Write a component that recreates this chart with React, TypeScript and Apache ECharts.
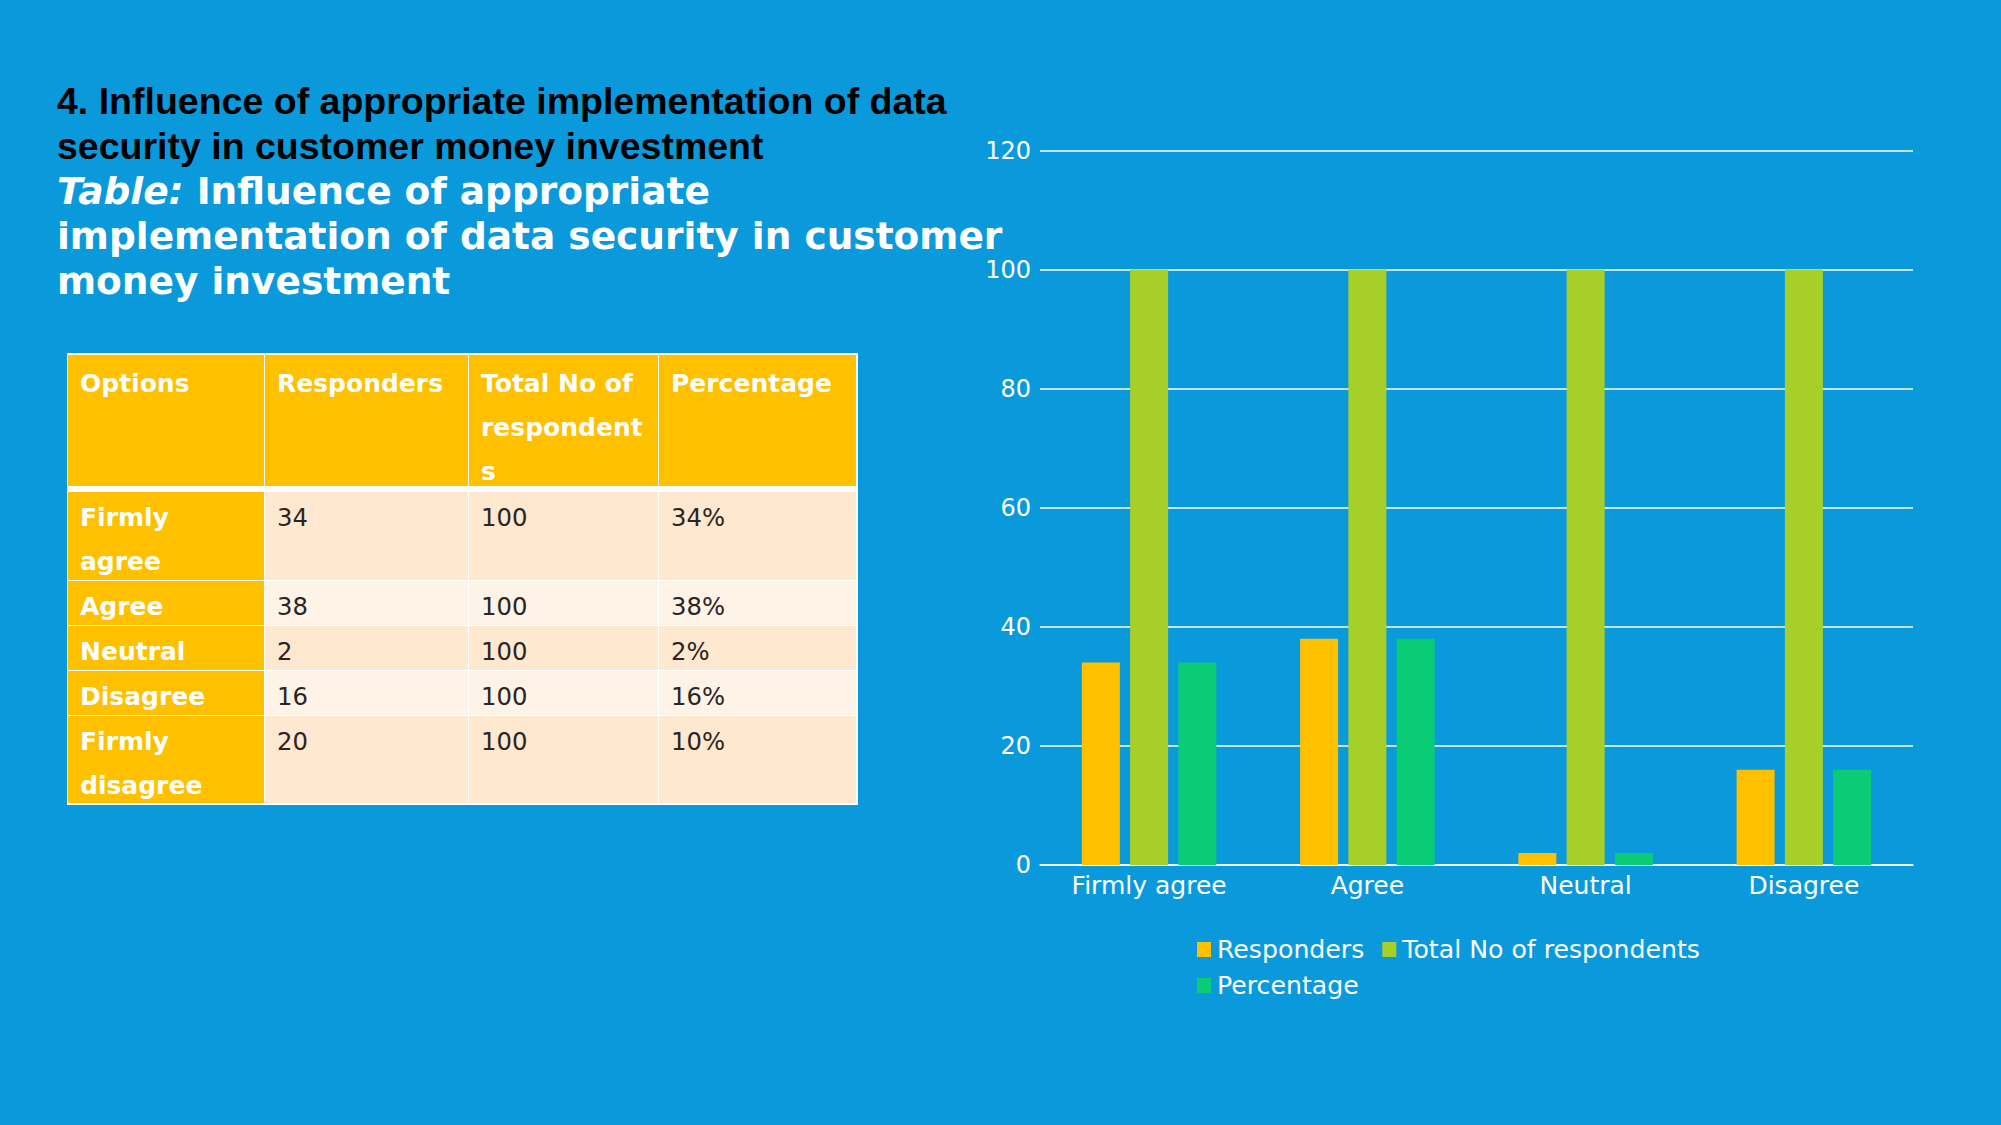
import React, { useEffect, useRef } from "react";
import * as echarts from "echarts";

const categories = ["Firmly agree", "Agree", "Neutral", "Disagree"];
const seriesNames = ["Responders", "Total No of respondents", "Percentage"];
const responders = [34, 38, 2, 16];
const totalRespondents = [100, 100, 100, 100];
const percentage = [34, 38, 2, 16];
const seriesColors = ["#FFC000", "#A6D028", "#0ACC76"];
const yTicks = { min: 0, max: 120, interval: 20 };

const titleBlackLines = [
  "4. Influence of appropriate implementation of data",
  "security in customer money investment",
];
const titleWhiteLines = [
  "Influence of appropriate",
  "implementation of data security in customer",
  "money investment",
];

const tableHeaders = ["Options", "Responders", "Total No of\nrespondent\ns", "Percentage"];
const tableOptions = ["Firmly\nagree", "Agree", "Neutral", "Disagree", "Firmly\ndisagree"];
const tableResponders = ["34", "38", "2", "16", "20"];
const tableTotals = ["100", "100", "100", "100", "100"];
const tablePercents = ["34%", "38%", "2%", "16%", "10%"];

const BG = "#0A9ADC";
const colX = [68, 264, 468, 658, 856];

function Table() {
  const headerTop = 354.5;
  const headerH = 131.5;
  const bodyTop = 492;
  const rowHeights = tableOptions.map((o) => (o.includes("\n") ? 88 : 45));
  const rowTops: number[] = [];
  let y = bodyTop;
  rowHeights.forEach((h) => {
    rowTops.push(y);
    y += h;
  });
  const bottom = y;
  const cells: React.ReactNode[] = [];
  const baseText: React.CSSProperties = {
    position: "absolute",
    boxSizing: "border-box",
    fontFamily: "'DejaVu Sans', sans-serif",
    lineHeight: "44px",
    whiteSpace: "pre",
    paddingLeft: 12,
    overflow: "visible",
  };
  cells.push(
    <div
      key="bgw"
      style={{
        position: "absolute",
        left: colX[0] - 1.5,
        top: headerTop - 1.5,
        width: colX[4] - colX[0] + 3,
        height: bottom - headerTop + 3,
        background: "#FFFFFF",
      }}
    />
  );
  tableHeaders.forEach((h, i) => {
    cells.push(
      <div
        key={"h" + i}
        style={{
          ...baseText,
          left: colX[i] + (i > 0 ? 1 : 0),
          top: headerTop,
          width: colX[i + 1] - colX[i] - (i > 0 ? 1 : 0),
          height: headerH,
          background: "#FFC000",
          color: "#FFFFFF",
          fontWeight: "bold",
          fontSize: 25,
          paddingTop: 7,
        }}
      >
        {h}
      </div>
    );
  });
  tableOptions.forEach((opt, r) => {
    const vals = [opt, tableResponders[r], tableTotals[r], tablePercents[r]];
    const light = r % 2 === 0 ? "#FEE8D0" : "#FEF3E7";
    vals.forEach((v, c) => {
      cells.push(
        <div
          key={"c" + r + "_" + c}
          style={{
            ...baseText,
            left: colX[c] + (c > 0 ? 1 : 0),
            top: rowTops[r] + (r > 0 ? 1 : 0),
            width: colX[c + 1] - colX[c] - (c > 0 ? 1 : 0),
            height: rowHeights[r] - (r > 0 ? 1 : 0),
            background: c === 0 ? "#FFC000" : light,
            color: c === 0 ? "#FFFFFF" : "#2B2422",
            fontWeight: c === 0 ? "bold" : "normal",
            fontSize: c === 0 ? 25 : 24.3,
            paddingTop: 4,
          }}
        >
          {v}
        </div>
      );
    });
  });
  return <>{cells}</>;
}

export default function App() {
  const ref = useRef<HTMLDivElement>(null);
  useEffect(() => {
    if (!ref.current) return;
    const chart = echarts.init(ref.current, undefined, { renderer: "svg" });
    const font = "'DejaVu Sans', sans-serif";
    const dataSets = [responders, totalRespondents, percentage];
    const legendBase = {
      left: 1197,
      orient: "horizontal",
      icon: "rect",
      itemWidth: 14,
      itemHeight: 15,
      itemGap: 18,
      padding: 0,
      textStyle: { color: "#FFFFFF", fontSize: 25.2, fontFamily: font, padding: [0, 0, 0, 1] },
    };
    chart.setOption({
      animation: false,
      backgroundColor: "transparent",
      textStyle: { fontFamily: font },
      grid: { left: 1040, right: 88, top: 150.5, bottom: 260, containLabel: false },
      legend: [
        { ...legendBase, data: seriesNames.slice(0, 2), top: 937 },
        { ...legendBase, data: seriesNames.slice(2), top: 973 },
      ],
      xAxis: {
        type: "category",
        data: categories,
        axisLine: { show: true, lineStyle: { color: "#FFFFFF", width: 1.5 } },
        axisTick: { show: false },
        axisLabel: { color: "#FFFFFF", fontSize: 25, fontFamily: font, margin: 8 },
      },
      yAxis: {
        type: "value",
        min: yTicks.min,
        max: yTicks.max,
        interval: yTicks.interval,
        axisLine: { show: false },
        axisTick: { show: false },
        splitLine: { lineStyle: { color: "#FFFFFF", width: 1.5 } },
        axisLabel: { color: "#FFFFFF", fontSize: 24, fontFamily: font, margin: 9 },
      },
      series: seriesNames.map((name, i) => ({
        name,
        type: "bar",
        data: dataSets[i],
        barWidth: 38,
        barGap: "27%",
        itemStyle: { color: seriesColors[i] },
      })),
    });
    return () => chart.dispose();
  }, []);

  return (
    <div
      style={{
        position: "absolute",
        left: 0,
        top: 0,
        width: 2001,
        height: 1125,
        background: BG,
        overflow: "hidden",
      }}
    >
      <div ref={ref} style={{ position: "absolute", left: 0, top: 0, width: 2001, height: 1125 }} />
      <div style={{ position: "absolute", left: 57, top: 79, pointerEvents: "none" }}>
        {titleBlackLines.map((l, i) => (
          <div
            key={"b" + i}
            style={{
              fontFamily: "'Liberation Sans', Arial, sans-serif",
              fontWeight: "bold",
              fontSize: 37.5,
              lineHeight: "44.7px",
              color: "#000000",
              whiteSpace: "nowrap",
            }}
          >
            {l}
          </div>
        ))}
        <div style={{ height: 1 }} />
        {titleWhiteLines.map((l, i) => (
          <div
            key={"w" + i}
            style={{
              fontFamily: "'DejaVu Sans', sans-serif",
              fontWeight: "bold",
              fontSize: 37.5,
              lineHeight: "44.7px",
              color: "#FFFFFF",
              whiteSpace: "nowrap",
            }}
          >
            {i === 0 ? <i>Table: </i> : null}
            {l}
          </div>
        ))}
      </div>
      <Table />
    </div>
  );
}
